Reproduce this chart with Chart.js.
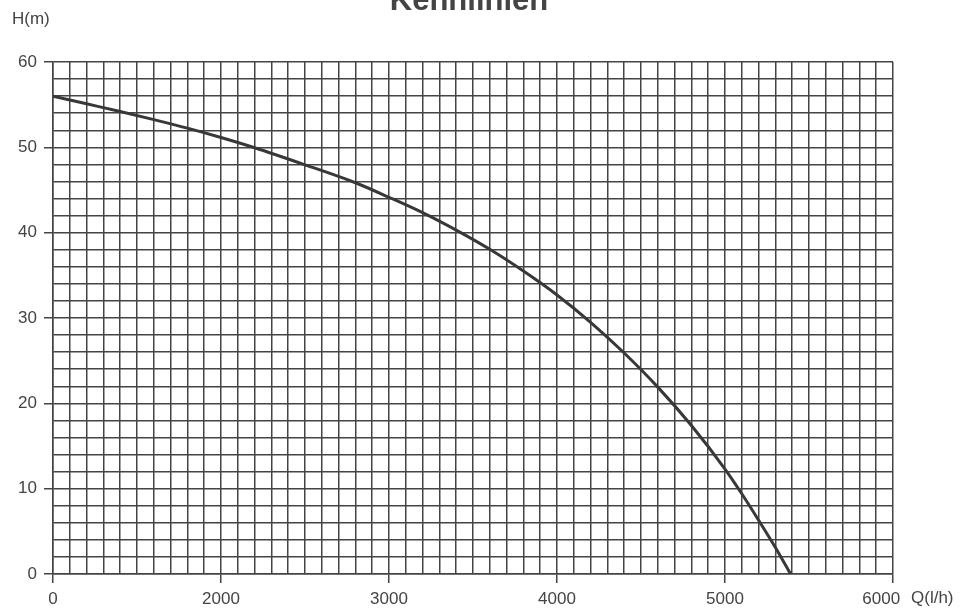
<!DOCTYPE html>
<html lang="de">
<head>
    <meta charset="UTF-8">
    <title>Kennlinien</title>
    <script src="https://cdn.jsdelivr.net/npm/chart.js"></script>
    <style>
        html, body { margin: 0; padding: 0; background: #fff; }
        #wrap { width: 960px; height: 608px; }
    </style>
</head>
<body>
    <div id="wrap"><canvas id="chartKennlinie" width="960" height="608"></canvas></div>

    <script>
        // Förderhöhe H(m) über Förderstrom Q(l/h)
        const flowQ = [1000, 1200, 1400, 1600, 1800, 2000, 2200, 2500, 2800, 3000, 3200, 3400,
                       3600, 3800, 4000, 4200, 4400, 4600, 4800, 5000, 5100, 5200, 5300, 5390];
        const headH = [56.0, 55.1, 54.2, 53.25, 52.25, 51.15, 49.95, 47.95, 45.85, 44.15, 42.35, 40.3,
                       38.05, 35.5, 32.7, 29.5, 25.9, 21.9, 17.4, 12.3, 9.4, 6.3, 3.1, 0];

        // Achsbeschriftung wie im Original (erste Marke ist mit 0 beschriftet)
        const xTickValues = [1000, 2000, 3000, 4000, 5000, 6000];
        const xTickLabels = ['0', '2000', '3000', '4000', '5000', '6000     '];
        const yTickValues = [0, 10, 20, 30, 40, 50, 60];

        const FONT = "'Liberation Sans', Arial, sans-serif";
        const GRID = '#444';
        const TEXT = '#444';

        // Titel und Achsnamen
        const textPlugin = {
            id: 'texts',
            afterDraw(chart) {
                const ctx = chart.ctx;
                ctx.save();
                ctx.fillStyle = TEXT;
                ctx.textBaseline = 'alphabetic';
                ctx.font = 'bold 31px ' + FONT;
                ctx.textAlign = 'center';
                ctx.fillText('Kennlinien', 469, 10);
                ctx.font = '17px ' + FONT;
                ctx.textAlign = 'left';
                ctx.fillText('H(m)', 12, 24);
                ctx.fillText('Q(l/h)', 911, 603);
                ctx.restore();
            }
        };

        const isMajorX = v => xTickValues.includes(v);
        const isMajorY = v => yTickValues.includes(v);

        new Chart(document.getElementById('chartKennlinie'), {
            type: 'line',
            data: {
                datasets: [{
                    data: flowQ.map((q, i) => ({ x: q, y: headH[i] })),
                    borderColor: '#383838',
                    borderWidth: 3,
                    pointRadius: 0,
                    fill: false,
                    cubicInterpolationMode: 'monotone'
                }]
            },
            options: {
                responsive: false,
                animation: false,
                layout: { padding: { top: 62, right: 67, bottom: 0, left: 0 } },
                plugins: {
                    legend: { display: false },
                    tooltip: { enabled: false }
                },
                scales: {
                    x: {
                        type: 'linear',
                        min: 1000,
                        max: 6000,
                        afterFit: s => { s.height = 34; },
                        ticks: {
                            stepSize: 100,
                            autoSkip: false,
                            maxRotation: 0,
                            padding: 6,
                            color: TEXT,
                            font: { family: FONT, size: 17 },
                            callback: v => {
                                const i = xTickValues.indexOf(v);
                                return i >= 0 ? xTickLabels[i] : '';
                            }
                        },
                        grid: {
                            color: GRID,
                            lineWidth: 1.5,
                            tickLength: 9,
                            tickColor: c => (c.tick && isMajorX(c.tick.value)) ? GRID : 'rgba(0,0,0,0)'
                        },
                        border: { color: GRID, width: 1.5 }
                    },
                    y: {
                        type: 'linear',
                        min: 0,
                        max: 60,
                        afterFit: s => { s.width = 53; },
                        ticks: {
                            stepSize: 2,
                            autoSkip: false,
                            padding: 7,
                            color: TEXT,
                            font: { family: FONT, size: 17 },
                            callback: v => isMajorY(v) ? String(v) : ''
                        },
                        grid: {
                            color: GRID,
                            lineWidth: 1.5,
                            tickLength: 9,
                            tickColor: c => (c.tick && isMajorY(c.tick.value)) ? GRID : 'rgba(0,0,0,0)'
                        },
                        border: { color: GRID, width: 1.5 }
                    }
                }
            },
            plugins: [textPlugin]
        });
    </script>
</body>
</html>
